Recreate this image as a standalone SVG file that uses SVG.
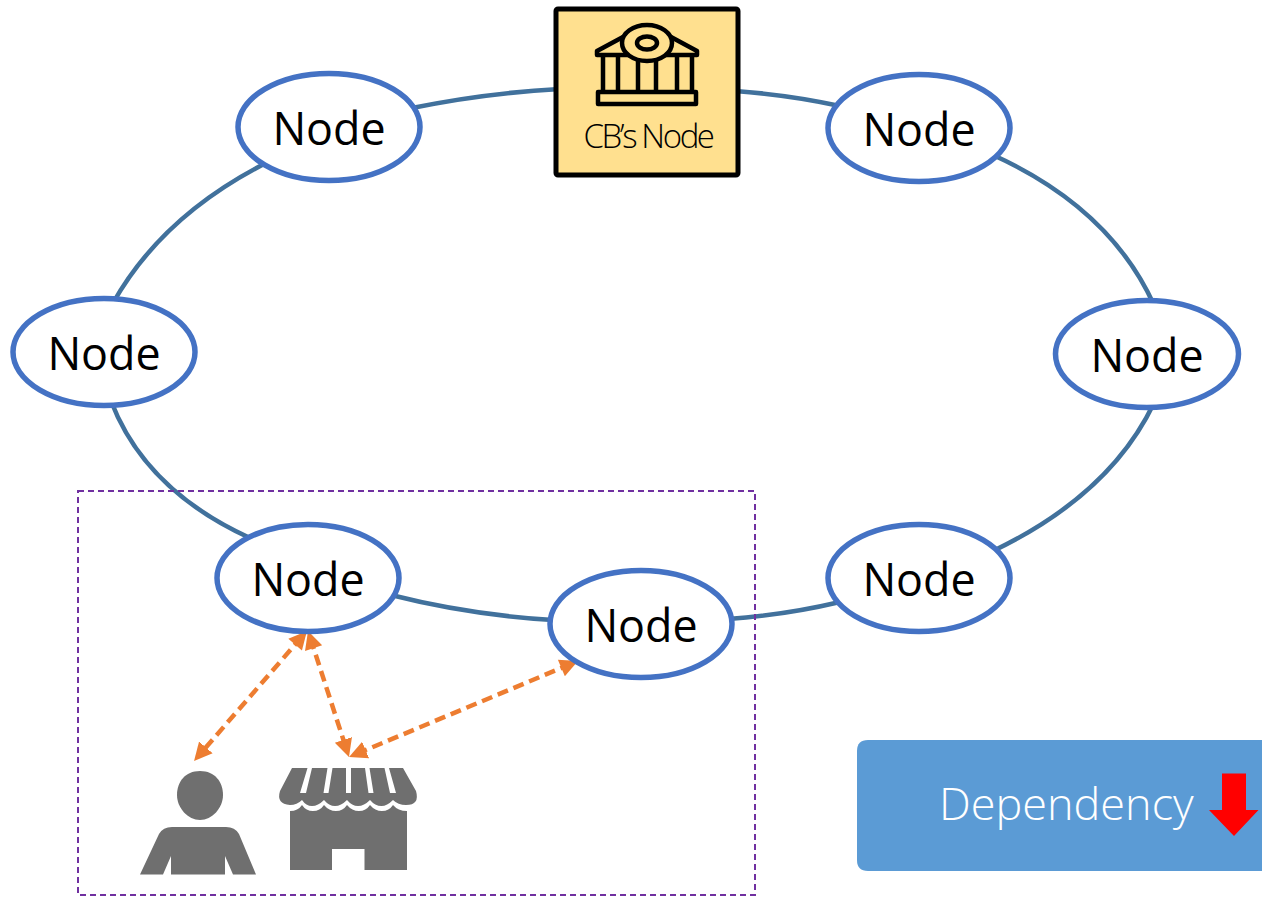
<svg xmlns="http://www.w3.org/2000/svg" width="1262" height="897" viewBox="0 0 1262 897">
<style>
.ring{fill:none;stroke:#41719c;stroke-width:4.500}
.dep{fill:none;stroke:#ed7d31;stroke-width:4.500;stroke-dasharray:11 6;marker-start:url(#head-start);marker-end:url(#head-end)}
.nd ellipse{fill:#fff;stroke:#4472c4;stroke-width:5.500}
.nd text{font-family:"Open Sans","Noto Sans",sans-serif;font-size:44.800px;fill:#000;text-anchor:middle}
.ic{fill:#6f6f6f}
.gap{fill:#fff}
.bank{fill:none;stroke:#000;stroke-width:4.500;stroke-linejoin:round}
</style>
<defs>
<marker id="head-end" markerUnits="userSpaceOnUse" markerWidth="20" markerHeight="20" refX="10" refY="9" orient="auto"><path d="M0 0L18 9L0 18Z" fill="#ed7d31"/></marker>
<marker id="head-start" markerUnits="userSpaceOnUse" markerWidth="20" markerHeight="20" refX="8" refY="9" orient="auto"><path d="M18 0L0 9L18 18Z" fill="#ed7d31"/></marker>
</defs>
<g id="connectors">
<path class="ring" d="M113 303Q162 216 266 163"/>
<path class="ring" d="M412 108Q485 93 560 89"/>
<path class="ring" d="M735 91Q790 95 840 106"/>
<path class="ring" d="M993 155Q1110 208 1154 305"/>
<path class="ring" d="M1154 403Q1110 495 993 551"/>
<path class="ring" d="M840 602Q785 615 728 619"/>
<path class="ring" d="M553 620Q470 615 391 595"/>
<path class="ring" d="M250 538Q145 490 111 401"/>
<path class="dep" d="M301.700 637L199.300 755"/>
<path class="dep" d="M310.500 638.600L346.500 749.400"/>
<path class="dep" d="M570.600 664.100L356.400 753.900"/>
</g>
<rect id="boundary" x="78" y="491" width="677" height="404" fill="none" stroke="#7030a0" stroke-width="2" stroke-dasharray="6 4"/>
<g id="node-top-left" class="nd"><ellipse cx="329" cy="127" rx="91" ry="53.500"/><text x="329" y="144.500">Node</text></g>
<g id="node-top-right" class="nd"><ellipse cx="919" cy="128" rx="91" ry="53.500"/><text x="919" y="145.500">Node</text></g>
<g id="node-left" class="nd"><ellipse cx="104" cy="352" rx="91" ry="53.500"/><text x="104" y="369.500">Node</text></g>
<g id="node-right" class="nd"><ellipse cx="1147" cy="354" rx="91.500" ry="53.500"/><text x="1147" y="371.500">Node</text></g>
<g id="node-bottom-left" class="nd"><ellipse cx="308" cy="578" rx="91" ry="53.500"/><text x="308" y="595.500">Node</text></g>
<g id="node-bottom-right" class="nd"><ellipse cx="919" cy="578" rx="91" ry="53.500"/><text x="919" y="595.500">Node</text></g>
<g id="node-bottom-mid" class="nd"><ellipse cx="641" cy="624" rx="91" ry="53.500"/><text x="641" y="641.500">Node</text></g>
<g id="cb-node">
<rect x="556" y="9" width="182" height="166" rx="2" fill="#ffe08f" stroke="#000" stroke-width="5"/>
<g class="bank">
<path d="M623 37L597 51V55H697V51L671 37"/>
<ellipse cx="647" cy="43" rx="25" ry="18" fill="#ffe08f"/>
<ellipse cx="647" cy="43" rx="10" ry="6.500"/>
<path d="M603 55V92M618 55V92M638 61V92M656 61V92M677 55V92M692 55V92"/>
<rect x="598" y="92" width="98" height="12"/>
</g>
<text x="648" y="148" font-family="'Open Sans','Noto Sans',sans-serif" font-weight="300" font-size="33" letter-spacing="-2.400" text-anchor="middle" fill="#000">CB’s Node</text>
</g>
<g id="person" class="ic">
<path d="M200 771C215 771 223 782 223 795C223 808 212 820 200 820C188 820 177 808 177 795C177 782 185 771 200 771Z"/>
<path d="M140 874.500L159 834Q163 827 172 827H226Q235 827 239 834L256 874.500H233L225 856V874.500H171V856L163 874.500Z"/>
</g>
<g id="store">
<path class="ic" d="M292 768H403L416 791Q420 805 406 805Q398 805 393 800Q387 806 381.500 806Q375 806 370 800Q364 806 358 806Q352 806 347 800Q341 806 335 806Q329 806 324 800Q318 806 312 806Q306 806 302 800Q297 805 290 805Q276 804 280 791Z"/>
<path class="gap" d="M307.500 768H312L306 793H300ZM327.500 768H332.500L328.500 793H323.500ZM346 768H351V793H346ZM365 768H369.500L373.500 793H368.500ZM384.500 768H389L396 793H390Z"/>
<path class="ic" d="M290 811Q298 811 302 805Q306 811 313 811Q320 811 324 805Q329 811 336 811Q343 811 347 805Q352 811 359 811Q366 811 370 805Q375 811 382 811Q389 811 393 805Q398 811 407 811V870H364.500V849H332V870H290Z"/>
</g>
<g id="legend">
<path d="M1262 740H868Q857 740 857 751V860Q857 871 868 871H1262Z" fill="#5b9bd5"/>
<text x="939" y="820" font-family="'Open Sans','Noto Sans',sans-serif" font-weight="300" font-size="45" fill="#fff">Dependency</text>
<path d="M1222 773.500H1246V810H1258.500L1234 836L1209 810H1222Z" fill="#f00"/>
</g>
</svg>
